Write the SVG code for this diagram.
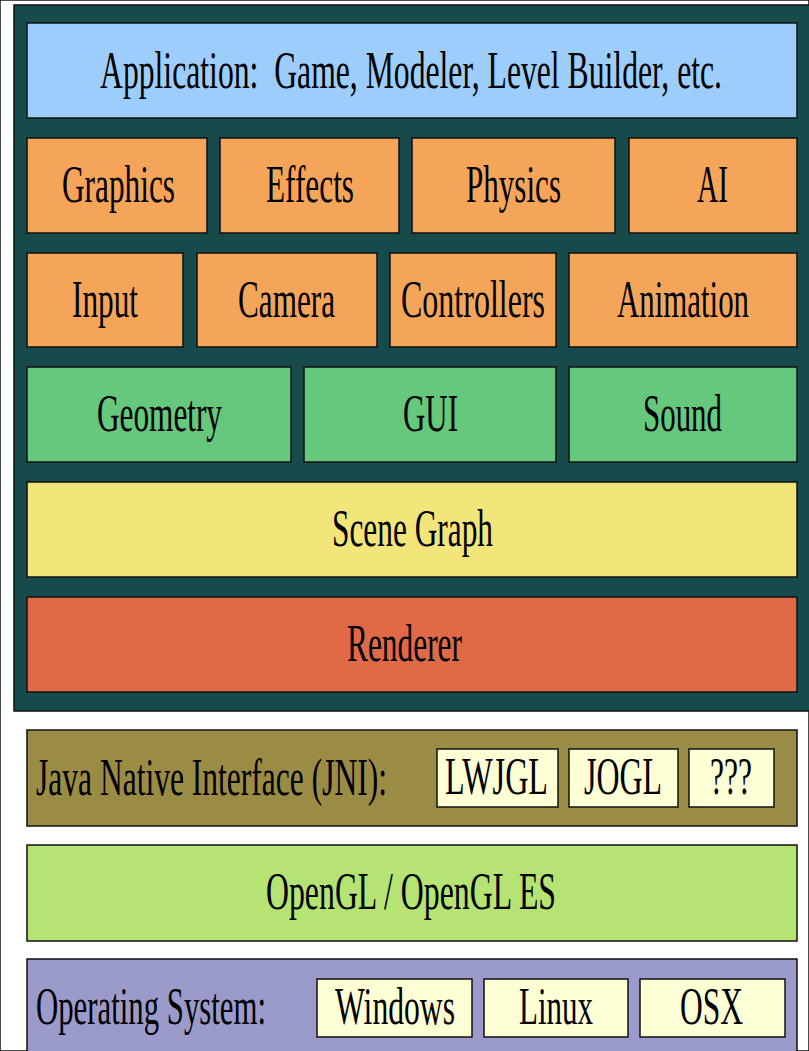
<svg xmlns="http://www.w3.org/2000/svg" width="809" height="1051" viewBox="0 0 809 1051">
<style>
rect{stroke:#111;stroke-width:1.5}
text{font-family:"Liberation Serif","Times New Roman",serif;font-size:52px;fill:#000}
.panel{fill:#174a4a}
.app{fill:#9dcdfb}
.or{fill:#f5a55a}
.gr{fill:#66c87c}
.ye{fill:#f2e67a}
.re{fill:#e06a48}
.jni{fill:#9b8c45}
.ogl{fill:#b5e474}
.os{fill:#9b9bcb}
.sm{fill:#ffffd6}
</style>
<rect width="809" height="1051" fill="#fff" stroke="none"/>
<g id="engine">
<rect class="panel" x="14" y="5" width="800" height="706"/>
</g>
<g id="application"><rect class="app" x="27" y="23" width="770" height="95"/><text x="100" y="88" textLength="622" lengthAdjust="spacingAndGlyphs" xml:space="preserve">Application:  Game, Modeler, Level Builder, etc.</text></g>
<g id="graphics"><rect class="or" x="27" y="138" width="180" height="95"/><text x="62" y="202" textLength="113" lengthAdjust="spacingAndGlyphs">Graphics</text></g>
<g id="effects"><rect class="or" x="220" y="138" width="179" height="95"/><text x="266" y="202" textLength="88" lengthAdjust="spacingAndGlyphs">Effects</text></g>
<g id="physics"><rect class="or" x="412" y="138" width="203" height="95"/><text x="466" y="202" textLength="95" lengthAdjust="spacingAndGlyphs">Physics</text></g>
<g id="ai"><rect class="or" x="629" y="138" width="168" height="95"/><text x="697" y="202" textLength="31" lengthAdjust="spacingAndGlyphs">AI</text></g>
<g id="input"><rect class="or" x="27" y="253" width="156" height="94"/><text x="72" y="317" textLength="66" lengthAdjust="spacingAndGlyphs">Input</text></g>
<g id="camera"><rect class="or" x="197" y="253" width="180" height="94"/><text x="238" y="317" textLength="97" lengthAdjust="spacingAndGlyphs">Camera</text></g>
<g id="controllers"><rect class="or" x="390" y="253" width="166" height="94"/><text x="401" y="317" textLength="144" lengthAdjust="spacingAndGlyphs">Controllers</text></g>
<g id="animation"><rect class="or" x="569" y="253" width="228" height="94"/><text x="617" y="317" textLength="132" lengthAdjust="spacingAndGlyphs">Animation</text></g>
<g id="geometry"><rect class="gr" x="27" y="367" width="264" height="95"/><text x="97" y="431" textLength="125" lengthAdjust="spacingAndGlyphs">Geometry</text></g>
<g id="gui"><rect class="gr" x="304" y="367" width="252" height="95"/><text x="403" y="431" textLength="55" lengthAdjust="spacingAndGlyphs">GUI</text></g>
<g id="sound"><rect class="gr" x="569" y="367" width="228" height="95"/><text x="643" y="431" textLength="79" lengthAdjust="spacingAndGlyphs">Sound</text></g>
<g id="scenegraph"><rect class="ye" x="27" y="482" width="770" height="95"/><text x="332" y="546" textLength="161" lengthAdjust="spacingAndGlyphs">Scene Graph</text></g>
<g id="renderer"><rect class="re" x="27" y="597" width="770" height="95"/><text x="347" y="661" textLength="115" lengthAdjust="spacingAndGlyphs">Renderer</text></g>
<g id="jni"><rect class="jni" x="27" y="730" width="770" height="96"/><text x="36" y="795" textLength="351" lengthAdjust="spacingAndGlyphs">Java Native Interface (JNI):</text></g>
<g id="lwjgl"><rect class="sm" x="437" y="749" width="121" height="58"/><text x="445" y="794" textLength="103" lengthAdjust="spacingAndGlyphs">LWJGL</text></g>
<g id="jogl"><rect class="sm" x="569" y="749" width="109" height="58"/><text x="584" y="794" textLength="78" lengthAdjust="spacingAndGlyphs">JOGL</text></g>
<g id="unknown"><rect class="sm" x="689" y="749" width="85" height="58"/><text x="710" y="794" textLength="42" lengthAdjust="spacingAndGlyphs">???</text></g>
<g id="opengl"><rect class="ogl" x="27" y="845" width="770" height="96"/><text x="266" y="909" textLength="290" lengthAdjust="spacingAndGlyphs">OpenGL / OpenGL ES</text></g>
<g id="os"><rect class="os" x="27" y="959" width="770" height="100"/><text x="36" y="1024" textLength="230" lengthAdjust="spacingAndGlyphs">Operating System:</text></g>
<g id="windows"><rect class="sm" x="317" y="979" width="155" height="58"/><text x="335" y="1024" textLength="120" lengthAdjust="spacingAndGlyphs">Windows</text></g>
<g id="linux"><rect class="sm" x="484" y="979" width="144" height="58"/><text x="519" y="1024" textLength="74" lengthAdjust="spacingAndGlyphs">Linux</text></g>
<g id="osx"><rect class="sm" x="640" y="979" width="145" height="58"/><text x="680" y="1024" textLength="63" lengthAdjust="spacingAndGlyphs">OSX</text></g>
</svg>
